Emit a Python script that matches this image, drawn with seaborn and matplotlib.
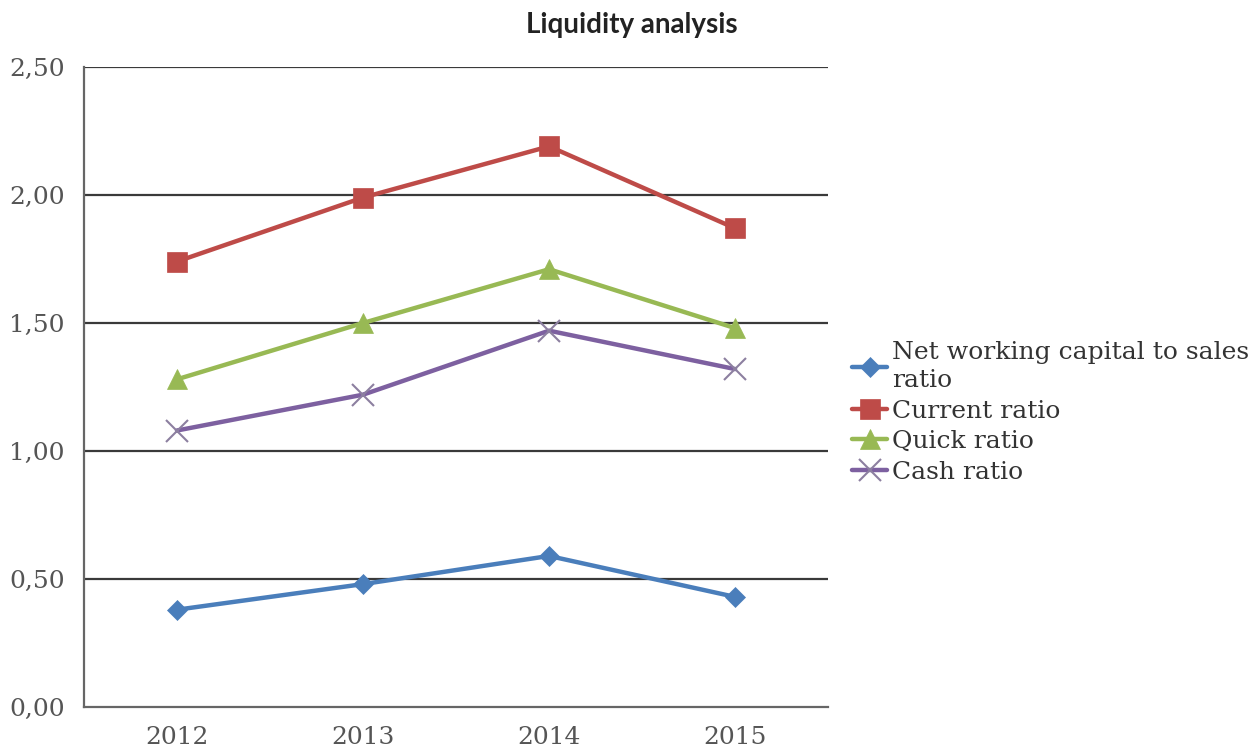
import matplotlib
matplotlib.use("Agg")
import matplotlib.pyplot as plt
import seaborn as sns
import pandas as pd
from matplotlib.ticker import FuncFormatter

years = ["2012", "2013", "2014", "2015"]
net_working = [0.38, 0.48, 0.59, 0.43]
current = [1.74, 1.99, 2.19, 1.87]
quick = [1.28, 1.50, 1.71, 1.48]
cash = [1.08, 1.22, 1.47, 1.32]
names = ["Net working capital to sales\nratio", "Current ratio", "Quick ratio", "Cash ratio"]

colors = ["#4A7EBB", "#BE4B48", "#98B954", "#7D60A0"]
markers = ["D", "s", "^", "x"]
msizes = [10, 15, 15, 16]

sns.set_theme(style="white")
serif = ["DejaVu Serif"]

fig = plt.figure(figsize=(12.57, 7.51), dpi=100)
ax = fig.add_axes([0.0668, 0.0586, 0.592, 0.8522])

for vals, name, c, m, ms in zip([net_working, current, quick, cash], names, colors, markers, msizes):
    df = pd.DataFrame({"year": years, "value": vals})
    sns.lineplot(data=df, x="year", y="value", ax=ax, color=c, linewidth=3.2,
                 marker=m, markersize=ms, markeredgecolor=c if m != "x" else "#8c7fa0",
                 markeredgewidth=1.5 if m == "x" else 0.5, label=name)

ax.set_xlim(-0.5, 3.5)
ax.set_ylim(0, 2.5)
ax.set_yticks([0, 0.5, 1.0, 1.5, 2.0, 2.5])
ax.yaxis.set_major_formatter(FuncFormatter(lambda v, p: f"{v:.2f}".replace(".", ",")))
for y in [0.5, 1.0, 1.5, 2.0, 2.5]:
    ax.axhline(y, color="#3a3a3a", linewidth=1.6, zorder=0)
ax.set_xlabel("")
ax.set_ylabel("")
for s in ["top", "right"]:
    ax.spines[s].set_visible(False)
for s in ["left", "bottom"]:
    ax.spines[s].set_color("#666666")
    ax.spines[s].set_linewidth(1.6)
ax.tick_params(axis="both", length=0, colors="#555555")
ax.tick_params(axis="x", pad=14)
ax.tick_params(axis="y", pad=14)
for lab in ax.get_xticklabels() + ax.get_yticklabels():
    lab.set_family(serif)
    lab.set_fontsize(18)

ax.get_legend().remove()
h, l = ax.get_legend_handles_labels()
leg = fig.legend(h, l, loc="upper left", bbox_to_anchor=(0.668, 0.563), frameon=False,
                 prop={"family": serif, "size": 18}, handlelength=1.4, handletextpad=0.2,
                 labelspacing=0.3, borderpad=0)
for t in leg.get_texts():
    t.set_color("#333333")
    t.set_linespacing(1.3)

fig.suptitle("Liquidity analysis", x=0.503, y=0.984, fontsize=20, fontweight="bold",
             family=["Lato", "DejaVu Sans"], color="#222222")

fig.savefig("out.png", dpi=100, facecolor="white")
